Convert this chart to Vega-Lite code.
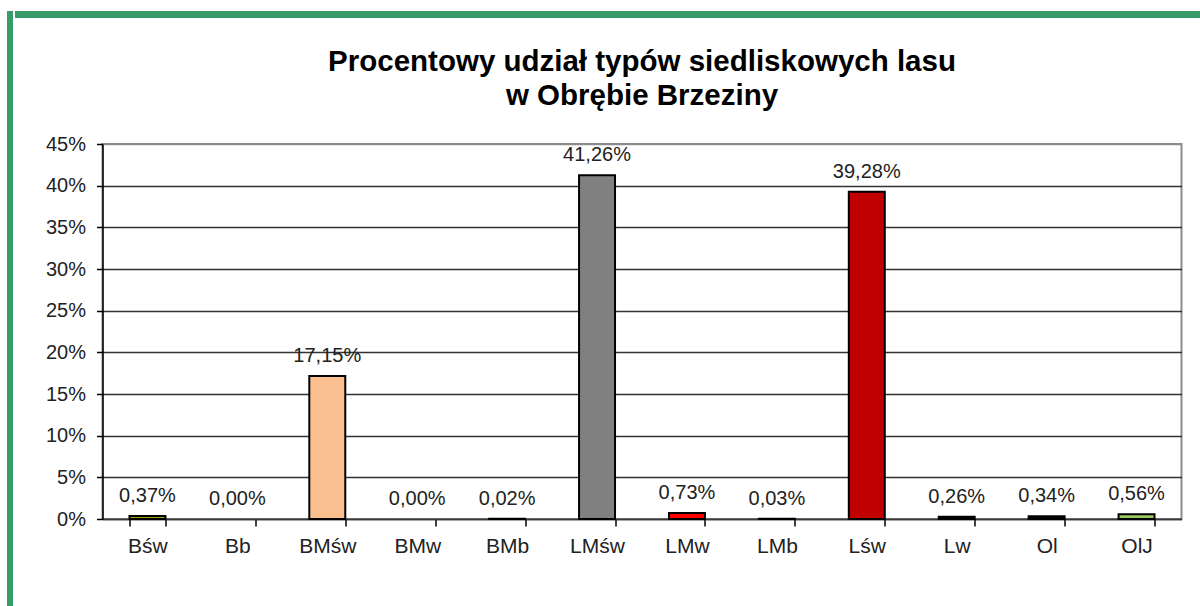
{
  "$schema": "https://vega.github.io/schema/vega-lite/v6.json",
  "padding": {"left": 7, "top": 11, "right": 0, "bottom": 0},
  "background": "white",
  "config": {
    "locale": {"number": {"decimal": ",", "thousands": " ", "grouping": [3], "currency": ["", ""]}},
    "font": "Liberation Sans"
  },
  "datasets": {
    "typy": [
      {"typ": "Bśw", "udzial": 0.0037},
      {"typ": "Bb", "udzial": 0},
      {"typ": "BMśw", "udzial": 0.1715},
      {"typ": "BMw", "udzial": 0},
      {"typ": "BMb", "udzial": 0.0002},
      {"typ": "LMśw", "udzial": 0.4126},
      {"typ": "LMw", "udzial": 0.0073},
      {"typ": "LMb", "udzial": 0.0003},
      {"typ": "Lśw", "udzial": 0.3928},
      {"typ": "Lw", "udzial": 0.0026},
      {"typ": "Ol", "udzial": 0.0034},
      {"typ": "OlJ", "udzial": 0.0056}
    ]
  },
  "spacing": 0,
  "hconcat": [
    {
      "width": 6,
      "height": 595,
      "view": {"fill": "#389B6A", "stroke": null},
      "data": {"values": [{}]},
      "mark": {"type": "rect", "color": "#389B6A"},
      "encoding": {}
    },
    {
      "spacing": 27,
      "center": true,
      "vconcat": [
        {
          "width": 1255,
          "height": 7,
          "view": {"fill": "#389B6A", "stroke": null},
          "data": {"values": [{}]},
          "mark": {"type": "rect", "color": "#389B6A"},
          "encoding": {}
        },
        {
          "width": 1079,
          "height": 375,
          "view": {"stroke": "#8c8c8c", "strokeWidth": 2, "fill": "white"},
          "title": {
            "text": ["Procentowy udział typów siedliskowych lasu", "w Obrębie Brzeziny"],
            "fontSize": 29.5,
            "fontWeight": "bold",
            "lineHeight": 34,
            "offset": 23,
            "frame": "group",
            "anchor": "middle",
            "color": "black",
            "font": "Liberation Sans"
          },
          "data": {"name": "typy"},
          "encoding": {
            "x": {
              "field": "typ",
              "type": "nominal",
              "sort": null,
              "scale": {"paddingInner": 0.6, "paddingOuter": 0.3},
              "axis": {
                "title": null,
                "labelAngle": 0,
                "tickBand": "extent",
                "tickSize": 7,
                "tickColor": "black",
                "tickWidth": 1.5,
                "domainColor": "#3a3a3a",
                "domainWidth": 1.5,
                "labelFontSize": 21,
                "labelPadding": 9,
                "labelColor": "#222222",
                "grid": false
              }
            },
            "y": {
              "field": "udzial",
              "type": "quantitative",
              "scale": {"domain": [0, 0.45], "nice": false},
              "axis": {
                "title": null,
                "values": [0, 0.05, 0.1, 0.15, 0.2, 0.25, 0.3, 0.35, 0.4, 0.45],
                "format": ".0%",
                "labelFontSize": 20,
                "labelColor": "#222222",
                "labelPadding": 11,
                "tickSize": 6,
                "tickColor": "black",
                "tickWidth": 1.5,
                "domainColor": "black",
                "domainWidth": 1.5,
                "grid": true,
                "gridColor": {"condition": {"test": "datum.value >= 0.449", "value": "#8c8c8c"}, "value": "#333333"},
                "gridWidth": 1.5,
                "minExtent": 88
              }
            }
          },
          "layer": [
            {
              "mark": {"type": "bar", "strokeWidth": 2},
              "encoding": {
                "color": {
                  "field": "typ",
                  "type": "nominal",
                  "legend": null,
                  "scale": {
                    "domain": ["Bśw", "Bb", "BMśw", "BMw", "BMb", "LMśw", "LMw", "LMb", "Lśw", "Lw", "Ol", "OlJ"],
                    "range": ["#a5a500", "#808080", "#fac090", "#808080", "#000000", "#808080", "#ff0000", "#000000", "#c00000", "#000000", "#000000", "#9dc85a"]
                  }
                },
                "stroke": {"condition": {"test": "datum.udzial > 0", "value": "black"}, "value": null}
              }
            },
            {
              "mark": {"type": "text", "baseline": "bottom", "dy": -10, "fontSize": 20, "color": "#222222"},
              "encoding": {
                "text": {"field": "udzial", "type": "quantitative", "format": ".2%"}
              }
            }
          ]
        }
      ]
    }
  ]
}
